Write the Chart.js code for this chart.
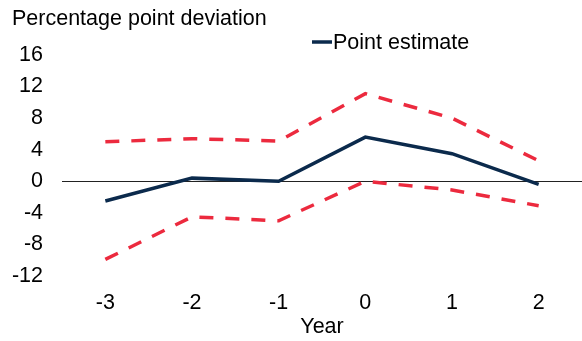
<!DOCTYPE html>
<head>
  <script src="https://cdn.jsdelivr.net/npm/chart.js"></script>
  <style>
    body {
      margin: 0;
      background-color: #ffffff;
    }
    #chart {
      width: 582px;
      height: 341px;
    }
  </style>
</head>
<div id="chart">
  <canvas id="myChart"></canvas>
</div>

<script>
  const years = ['-3', '-2', '-1', '0', '1', '2'];
  const pointEstimate = [-2.5, 0.4, 0.0, 5.6, 3.5, -0.4];
  const upperBound = [5.0, 5.4, 5.1, 11.1, 8.0, 2.6];
  const lowerBound = [-9.9, -4.5, -5.0, 0.0, -1.1, -3.1];

  const navy = '#0b2a4c';
  const red = '#ec2a3e';
  const fontFamily = "'Liberation Sans', Arial, sans-serif";

  // legend with just the point estimate, sitting above the plot
  const legendLine = {
    id: 'legendLine',
    afterDraw(chart) {
      const ctx = chart.ctx;
      const ds = chart.data.datasets[0];
      const x = chart.chartArea.left + 250;
      const y = 42;
      ctx.save();
      ctx.strokeStyle = ds.borderColor;
      ctx.lineWidth = 3.5;
      ctx.beginPath();
      ctx.moveTo(x, y);
      ctx.lineTo(x + 20, y);
      ctx.stroke();
      ctx.fillStyle = '#000000';
      ctx.font = '21.5px ' + fontFamily;
      ctx.textBaseline = 'middle';
      ctx.fillText(ds.label, x + 21, y + 1);
      ctx.restore();
    }
  };

  const data = {
    labels: years,
    datasets: [{
      label: 'Point estimate',
      data: pointEstimate,
      borderColor: navy,
      borderWidth: 3.5,
      pointRadius: 0,
      tension: 0,
      order: 0
    }, {
      label: 'Upper bound',
      data: upperBound,
      borderColor: red,
      borderWidth: 3.5,
      borderDash: [14, 12],
      pointRadius: 0,
      tension: 0,
      order: 1
    }, {
      label: 'Lower bound',
      data: lowerBound,
      borderColor: red,
      borderWidth: 3.5,
      borderDash: [14, 12],
      pointRadius: 0,
      tension: 0,
      order: 1
    }]
  };

  const config = {
    type: 'line',
    data: data,
    plugins: [legendLine],
    options: {
      responsive: true,
      maintainAspectRatio: false,
      animation: false,
      layout: {
        padding: { left: 12, right: 0, top: 0, bottom: 3 }
      },
      plugins: {
        legend: { display: false },
        tooltip: { enabled: false },
        title: {
          display: true,
          text: 'Percentage point deviation',
          align: 'start',
          color: '#000000',
          font: { family: fontFamily, size: 21.5, weight: 'normal', lineHeight: 1 },
          padding: { top: 8, bottom: 25.5 }
        }
      },
      scales: {
        x: {
          offset: true,
          grid: { display: false, drawTicks: false },
          border: { display: false },
          afterFit: function (scale) { scale.height = 62; },
          ticks: {
            color: '#000000',
            padding: 16,
            font: { family: fontFamily, size: 21.5, lineHeight: 1 }
          },
          title: {
            display: true,
            text: 'Year',
            color: '#000000',
            font: { family: fontFamily, size: 21.5, lineHeight: 1 },
            padding: { top: 0, bottom: 0 }
          }
        },
        y: {
          min: -12,
          max: 16,
          border: { display: false },
          afterFit: function (scale) { scale.width = 50; },
          grid: {
            drawTicks: false,
            lineWidth: 1,
            color: function (c) {
              return c.tick && c.tick.value === 0 ? '#222222' : 'rgba(0,0,0,0)';
            }
          },
          ticks: {
            stepSize: 4,
            color: '#000000',
            padding: 19,
            font: { family: fontFamily, size: 21.5, lineHeight: 1 }
          }
        }
      }
    }
  };

  myChart = new Chart(document.getElementById('myChart'), config);
</script>
